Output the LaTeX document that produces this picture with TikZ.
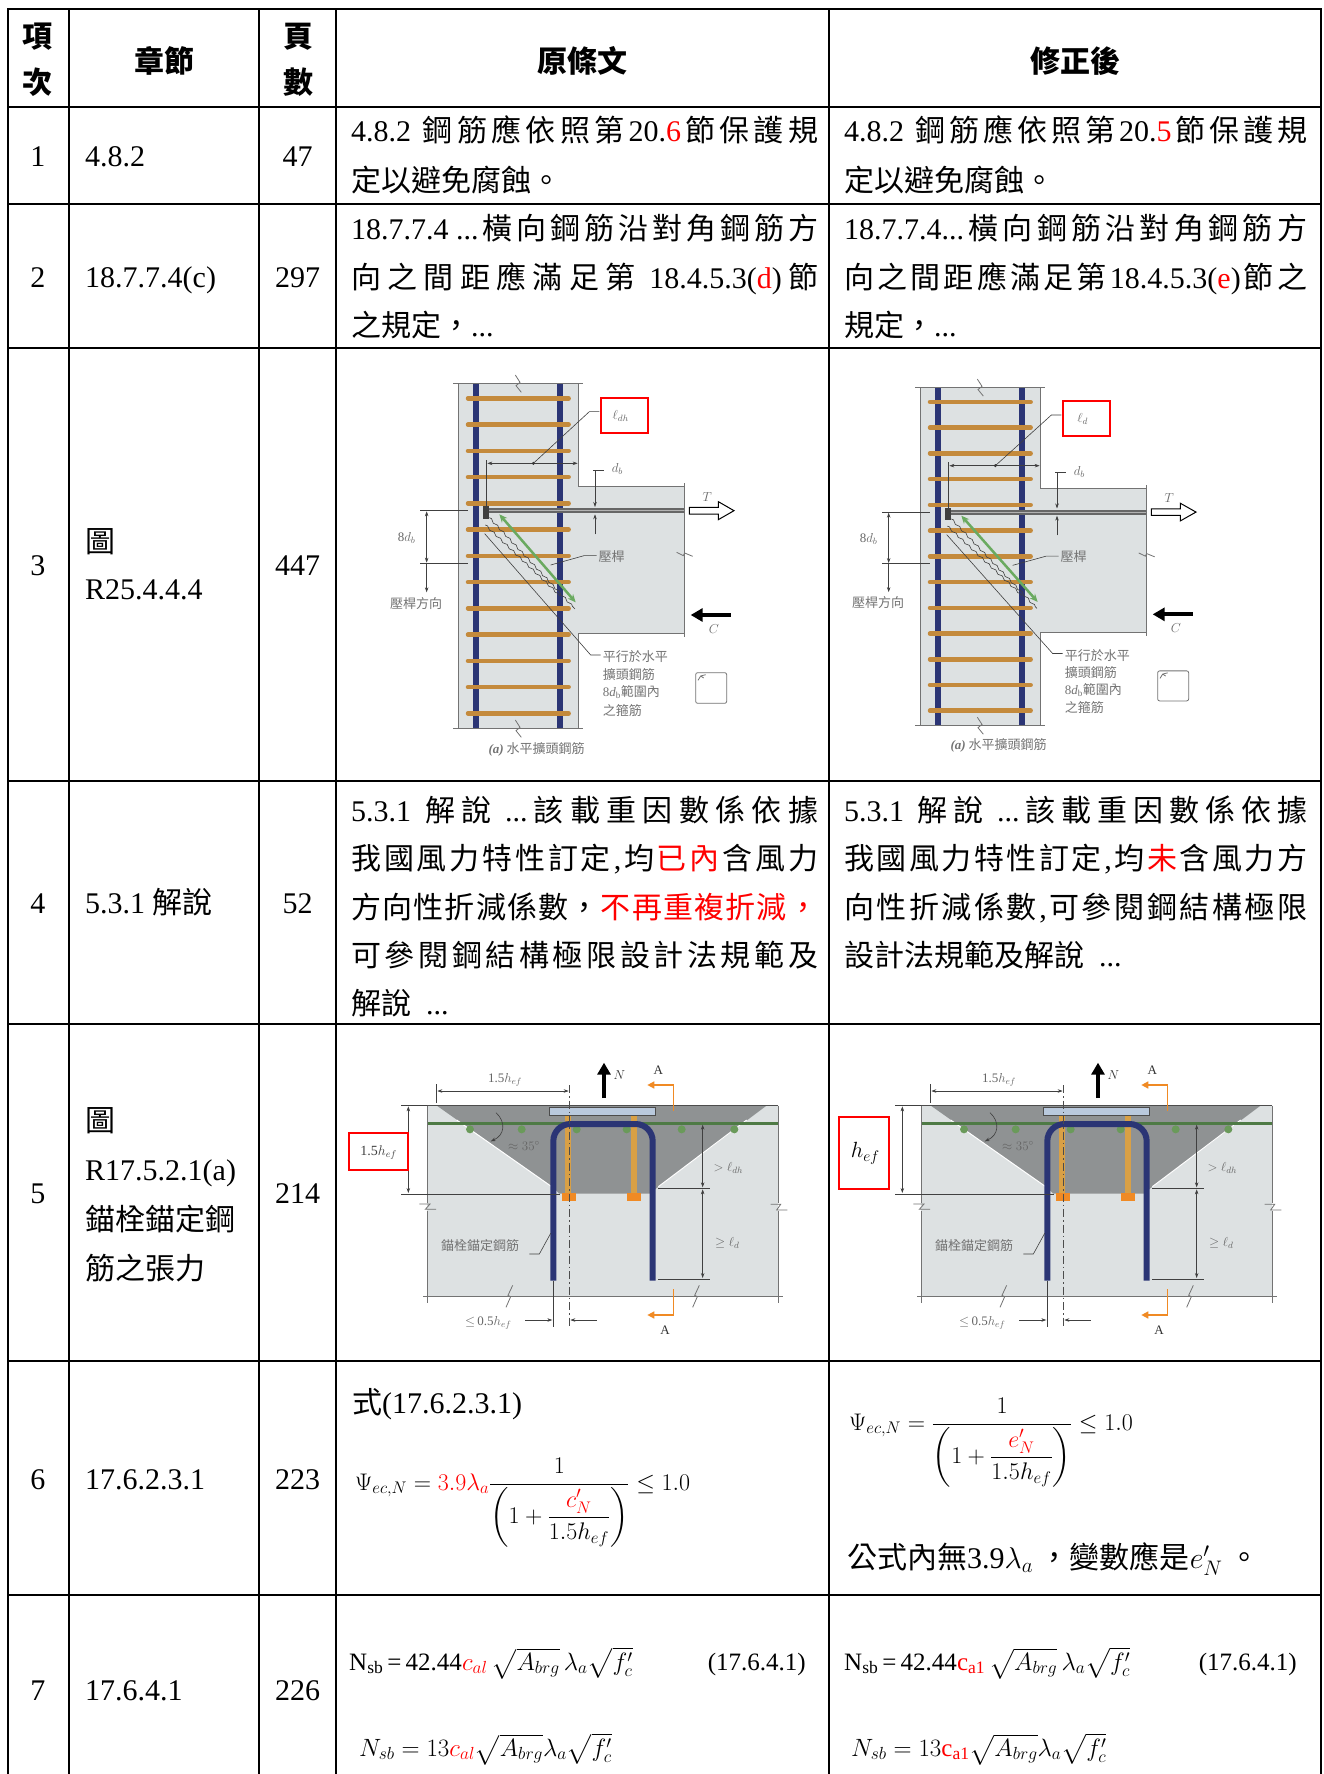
\documentclass[tikz,border=0pt]{standalone}
\usepackage{fix-cm}
\usepackage{amsmath}
\usepackage{fontspec}
\setmainfont{Liberation Serif}
\newfontfamily\cjk{Noto Sans CJK TC}
\usetikzlibrary{arrows.meta,decorations.pathmorphing}
\definecolor{conc}{HTML}{DDE1E2}
\definecolor{navy}{HTML}{2B3575}
\definecolor{tie}{HTML}{C48A3C}
\definecolor{grn}{HTML}{6AAA60}
\definecolor{cone}{HTML}{8F9293}
\definecolor{stud}{HTML}{D9A045}
\definecolor{orng}{HTML}{F08A24}
\definecolor{plate}{HTML}{B9C9DD}
\definecolor{rebargrn}{HTML}{4E7A45}
\definecolor{dotgrn}{HTML}{6A9A5A}
\newcommand\lt[1]{{\rmfamily #1}}
\newcommand\rd[1]{\textcolor{red}{#1}}
\def\jend{}
\def\jendmark{\jend}
\def\jspread#1{\def\jtmp{#1}\ifx\jtmp\jendmark\else#1\hfil\expandafter\jspread\fi}
\newcommand\jline[2]{\hbox to #1{\jspread#2\jend\unskip}}
\tikzset{
 tline/.style={line width=2.5pt, line cap=rect},
 txt/.style={anchor=base west, inner sep=0pt, font=\fontsize{30}{36}\selectfont\cjk},
 ctxt/.style={anchor=base, inner sep=0pt, font=\fontsize{30}{36}\selectfont\rmfamily},
 ltxt/.style={anchor=base west, inner sep=0pt, font=\fontsize{30}{36}\selectfont\rmfamily},
 hdr/.style={anchor=base, inner sep=0pt, font=\fontsize{30}{36}\selectfont\cjk\bfseries},
 ftxt/.style={anchor=base west, inner sep=0pt, font=\fontsize{25}{30}\selectfont\rmfamily},
 fsix/.style={anchor=base west, inner sep=0pt, font=\fontsize{24}{30}\selectfont\rmfamily},
 flab/.style={inner sep=0pt, text=black!55, font=\fontsize{13}{15}\selectfont\cjk},
 fmath/.style={inner sep=0pt, text=black!60, font=\fontsize{13}{15}\selectfont\rmfamily},
 fedge/.style={draw=black!55, line width=0.8pt},
 fdim/.style={draw=black!75, line width=0.6pt},
 darr/.style={fdim, {Stealth[length=5pt,width=3.5pt]}-{Stealth[length=5pt,width=3.5pt]}},
 sarr/.style={fdim, -{Stealth[length=5pt,width=3.5pt]}},
 wavy/.style={fdim, decorate, decoration={zigzag, segment length=9pt, amplitude=0.9pt}},
}
\newcommand\figthree[2]{%
 \fill[conc] (385,115) rectangle (745,1150);
 \fill[conc] (745,425) rectangle (1062,865);
 \draw[navy, line width=6pt] (438,117) -- (438,1148);
 \draw[navy, line width=6pt] (690,117) -- (690,1148);
 \foreach \k in {0,...,12}{\draw[tie, line width=4.5pt, line cap=round] (414,{160+78.75*\k}) -- (716,{160+78.75*\k});}
 \draw[fedge] (370,115) -- (760,115);
 \draw[fedge] (370,1150) -- (760,1150);
 \draw[fedge] (385,115) -- (385,1150);
 \draw[fedge] (745,115) -- (745,425) -- (1062,425);
 \draw[fedge] (1062,865) -- (745,865) -- (745,1150);
 \draw[fedge] (1062,415) -- (1062,875);
 \draw[fedge] (556,90) -- (570,112) -- (558,122) -- (574,142);
 \draw[fedge] (556,1125) -- (570,1147) -- (558,1157) -- (574,1177);
 \draw[fedge] (1040,622) -- (1060,632) -- (1064,624) -- (1088,634);
 \draw[black!60, line width=5pt] (470,497) -- (1062,497);
 \draw[black!30, line width=1pt] (472,497) -- (1062,497);
 \fill[black!75] (460,484) rectangle (477,522);
 \draw[darr] (472,355) -- (743,355);
 \draw[fdim] (470,345) -- (470,486);
 \fill[black!80] (610,355) circle (1.6pt);
 \draw[fdim] (610,355) -- (778,200) -- (808,200);
 \draw[red, line width=2pt] (812,158) rectangle (955,265);
 \node[fmath] (#2-box) at (872,212) {$\ell_{#1}$};
 \draw[sarr] (795,375) -- (795,486);
 \draw[sarr] (795,568) -- (795,508);
 \draw[fdim] (790,375) -- (822,375);
 \node[fmath] (#2-db) at (862,373) {$d_b$};
 \draw[fdim] (270,497) -- (415,497);
 \draw[fdim] (270,655) -- (415,655);
 \draw[darr] (290,499) -- (290,653);
 \draw[sarr] (290,657) -- (290,742);
 \node[fmath] (#2-8db) at (230,580) {8$d_b$};
 \node[flab] (#2-sdir) at (258,775) {壓桿方向};
 \draw[grn, line width=2.5pt, {Stealth[length=8pt,width=7pt]}-{Stealth[length=8pt,width=7pt]}] (508,508) -- (737,772);
 \draw[wavy] (478,518) -- (735,792);
 \draw[wavy] (466,540) -- (690,752);
 \draw[fdim] (464,566) -- (782,930) -- (812,930);
 \draw[fdim] (662,660) -- (762,632) -- (800,632);
 \node[flab] (#2-strut) at (845,634) {壓桿};
 \node[flab, anchor=west] (#2-t1) at (818,936) {平行於水平};
 \node[flab, anchor=west] (#2-t2) at (818,988) {擴頭鋼筋};
 \node[flab, anchor=west] (#2-t3) at (818,1041) {{\rmfamily 8\textit{d}\textsubscript{b}}範圍內};
 \node[flab, anchor=west] (#2-t4) at (818,1096) {之箍筋};
 \draw[black!55, line width=0.8pt, rounded corners=2pt] (1097,983) rectangle (1190,1075);
 \draw[black!55, line width=0.8pt] (1104,1006) -- (1112,993) -- (1121,999) (1112,993) -- (1127,989);
 \draw[black, line width=1pt, fill=white] (1078,487) -- (1165,487) -- (1165,470) -- (1212,497) -- (1165,524) -- (1165,507) -- (1078,507) -- cycle;
 \node[fmath] (#2-T) at (1132,455) {$T$};
 \draw[black, line width=4pt, -{Triangle[length=12pt,width=13pt]}] (1202,810) -- (1082,810);
 \node[fmath] (#2-C) at (1152,852) {$C$};
 \node[flab] (#2-cap) at (620,1212) {{\rmfamily\bfseries\itshape (a)}\ 水平擴頭鋼筋};
}
\newcommand\figfive[1]{%
 \fill[conc] (292,257) rectangle (1345,830);
 \fill[cone] (322,258) -- (1308,258) -- (985,500) -- (960,521) -- (688,521) -- (668,502) -- cycle;
 \draw[white, line width=1pt] (380,300) -- (668,502);
 \draw[white, line width=1pt] (1250,300) -- (985,500);
 \draw[rebargrn, line width=3pt] (292,310) -- (1345,310);
 \foreach \xx in {420,575,740,890,1055,1213}{\fill[dotgrn] (\xx,328) circle (4pt);}
 \draw[stud, line width=6pt] (715,287) -- (715,520);
 \draw[stud, line width=6pt] (912,287) -- (912,520);
 \fill[orng] (695,519) rectangle (737,543);
 \fill[orng] (892,519) rectangle (934,543);
 \draw[navy, line width=6pt, rounded corners=17pt] (670,782) -- (670,312) -- (968,312) -- (968,782);
 \draw[black!70, fill=plate, line width=0.6pt] (658,262) rectangle (975,286);
 \draw[black!70, line width=1.3pt] (292,257) -- (1345,257);
 \draw[fedge] (292,257) -- (292,548);
 \draw[fedge] (292,572) -- (292,848);
 \draw[fedge] (268,552) -- (300,552) -- (286,568) -- (318,568);
 \draw[fedge] (1345,257) -- (1345,550);
 \draw[fedge] (1345,574) -- (1345,848);
 \draw[fedge] (1322,553) -- (1352,553) -- (1340,570) -- (1372,570);
 \draw[fedge] (280,830) -- (1360,830);
 \draw[fedge] (528,862) -- (542,830) -- (534,826) -- (548,796);
 \draw[fedge] (1088,862) -- (1102,830) -- (1094,826) -- (1108,796);
 \draw[black!70, line width=0.6pt, dash pattern=on 8pt off 3pt on 1.5pt off 3pt] (718,195) -- (718,925);
 \draw[black, line width=4.5pt, -{Triangle[length=12pt,width=13pt]}] (822,234) -- (822,128);
 \node[fmath, text=black!80] (#1-N) at (868,165) {$N$};
 \draw[darr] (322,213) -- (716,213);
 \draw[fdim] (320,192) -- (320,248);
 \node[fmath] (#1-w) at (525,180) {1.5$h_{ef}$};
 \draw[fdim, -{Stealth[length=5pt,width=3.5pt]}] (498,278) .. controls (528,305) and (525,345) .. (482,364);
 \node[fmath] (#1-ang) at (582,378) {$\approx 35^\circ$};
 \draw[darr] (235,259) -- (235,519);
 \draw[fdim] (213,257) -- (292,257);
 \draw[fdim] (213,522) -- (690,522);
 \draw[darr] (1118,314) -- (1118,502);
 \draw[darr] (1118,508) -- (1118,774);
 \draw[fdim] (985,505) -- (1140,505);
 \draw[fdim] (985,777) -- (1140,777);
 \node[fmath] (#1-ldh) at (1195,445) {$>\ell_{dh}$};
 \node[fmath] (#1-ld) at (1192,668) {$\geq\ell_d$};
 \draw[orng, line width=1.5pt, -{Triangle[length=7pt,width=7pt]}] (1030,272) -- (1030,195) -- (952,195);
 \node[fmath, text=black!80] (#1-A1) at (985,150) {A};
 \draw[orng, line width=1.5pt, -{Triangle[length=7pt,width=7pt]}] (1030,808) -- (1030,885) -- (952,885);
 \node[fmath, text=black!80] (#1-A2) at (1005,930) {A};
 \draw[fdim] (670,782) -- (670,922);
 \draw[sarr] (585,900) -- (667,900);
 \draw[sarr] (800,900) -- (721,900);
 \node[fmath] (#1-half) at (475,908) {$\leq$\,0.5$h_{ef}$};
 \draw[fdim] (598,702) -- (628,702) -- (662,640);
 \node[flab] (#1-anc) at (450,676) {錨栓錨定鋼筋};
}
\begin{document}
\begin{tikzpicture}[x=1pt,y=-1pt]
\useasboundingbox (0,0) rectangle (1324,1774);
\fill[white] (0,0) rectangle (1324,1774);
% ---------- figures ----------
\begin{scope}[shift={(330,345)}, x=0.33333pt, y=-0.33333pt]
 \figthree{dh}{L}
\end{scope}
\begin{scope}[shift={(792,349.7)}, x=0.33333pt, y=-0.3267pt]
 \figthree{d}{R}
\end{scope}
\begin{scope}[shift={(330,1020)}, x=0.33333pt, y=-0.33333pt]
 \figfive{P}
 \draw[red, line width=2pt] (58,338) rectangle (235,450);
 \node[fmath, text=black!75, font=\fontsize{14}{16}\selectfont\rmfamily] (P-box) at (146,398) {1.5$h_{ef}$};
\end{scope}
\begin{scope}[shift={(824,1020)}, x=0.33333pt, y=-0.33333pt]
 \figfive{Q}
 \draw[red, line width=2pt] (44,292) rectangle (194,508);
 \node[inner sep=0pt, font=\fontsize{22}{24}\selectfont] (Q-box) at (124,400) {$h_{ef}$};
\end{scope}
% ---------- table lines ----------
\foreach \yy in {9,107,204,348,781,1024,1361,1595} \draw[tline] (8,\yy) -- (1321,\yy);
\foreach \xx in {8,69,259,336,829,1321} \draw[tline] (\xx,9) -- (\xx,1774);
% ---------- header ----------
\node[hdr] (h1a) at (38,48) {項};
\node[hdr] (h1b) at (38,94) {次};
\node[hdr] (h2) at (164,73) {章節};
\node[hdr] (h3a) at (298,48) {頁};
\node[hdr] (h3b) at (298,94) {數};
\node[hdr] (h4) at (582,73) {原條文};
\node[hdr] (h5) at (1075,73) {修正後};
% ---------- column 1 & 3 ----------
\node[ctxt] (n1) at (38,166) {1};
\node[ctxt] (n2) at (38,287) {2};
\node[ctxt] (n3) at (38,575) {3};
\node[ctxt] (n4) at (38,913) {4};
\node[ctxt] (n5) at (38,1203) {5};
\node[ctxt] (n6) at (38,1489) {6};
\node[ctxt] (n7) at (38,1700) {7};
\node[ctxt] (p1) at (297.5,166) {47};
\node[ctxt] (p2) at (297.5,287) {297};
\node[ctxt] (p3) at (297.5,575) {447};
\node[ctxt] (p4) at (297.5,913) {52};
\node[ctxt] (p5) at (297.5,1203) {214};
\node[ctxt] (p6) at (297.5,1489) {223};
\node[ctxt] (p7) at (297.5,1700) {226};
% ---------- column 2 ----------
\node[ltxt] (c1) at (85,166) {4.8.2};
\node[ltxt] (c2) at (85,287) {18.7.7.4(c)};
\node[txt] (c3a) at (85,552) {圖};
\node[ltxt] (c3b) at (85,599) {R25.4.4.4};
\node[txt] (c4) at (85,913) {\lt{5.3.1\ }解說};
\node[txt] (c5a) at (85,1131) {圖};
\node[ltxt] (c5b) at (85,1180) {R17.5.2.1(a)};
\node[txt] (c5c) at (85,1230) {錨栓錨定鋼};
\node[txt] (c5d) at (85,1279) {筋之張力};
\node[ltxt] (c6) at (85,1489) {17.6.2.3.1};
\node[ltxt] (c7) at (85,1700) {17.6.4.1};
% ---------- row 1 ----------
\node[txt] (o1a) at (351,142) {\jline{467pt}{{\lt{4.8.2\ }}鋼筋應依照第{\lt{20.\rd{6}}}節保護規}};
\node[txt] (o1b) at (351,191) {定以避免腐蝕。};
\node[txt] (m1a) at (844,142) {\jline{463pt}{{\lt{4.8.2\ }}鋼筋應依照第{\lt{20.\rd{5}}}節保護規}};
\node[txt] (m1b) at (844,191) {定以避免腐蝕。};
% ---------- row 2 ----------
\node[txt] (o2a) at (351,239) {\jline{467pt}{{\lt{18.7.7.4\ ...}}橫向鋼筋沿對角鋼筋方}};
\node[txt] (o2b) at (351,288) {\jline{467pt}{向之間距應滿足第{\lt{\ 18.4.5.3(\rd{d})}}節}};
\node[txt] (o2c) at (351,336) {之規定，\lt{...}};
\node[txt] (m2a) at (844,239) {\jline{463pt}{{\lt{18.7.7.4...}}橫向鋼筋沿對角鋼筋方}};
\node[txt] (m2b) at (844,288) {\jline{463pt}{向之間距應滿足第{\lt{18.4.5.3(\rd{e})}}節之}};
\node[txt] (m2c) at (844,336) {規定，\lt{...}};
% ---------- row 4 ----------
\node[txt] (o4a) at (351,821) {\jline{467pt}{{\lt{5.3.1\ }}解說{\lt{\ ...}}該載重因數係依據}};
\node[txt] (o4b) at (351,869) {\jline{467pt}{我國風力特性訂定{\lt{,}}均{\rd{已}}{\rd{內}}含風力}};
\node[txt] (o4c) at (351,918) {\jline{467pt}{方向性折減係數，{\rd{不}}{\rd{再}}{\rd{重}}{\rd{複}}{\rd{折}}{\rd{減}}{\rd{，}}}};
\node[txt] (o4d) at (351,966) {\jline{467pt}{可參閱鋼結構極限設計法規範及}};
\node[txt] (o4e) at (351,1014) {解說\lt{\ \ ...}};
\node[txt] (m4a) at (844,821) {\jline{463pt}{{\lt{5.3.1\ }}解說{\lt{\ ...}}該載重因數係依據}};
\node[txt] (m4b) at (844,869) {\jline{463pt}{我國風力特性訂定{\lt{,}}均{\rd{未}}含風力方}};
\node[txt] (m4c) at (844,918) {\jline{463pt}{向性折減係數{\lt{,}}可參閱鋼結構極限}};
\node[txt] (m4d) at (844,966) {設計法規範及解說\lt{\ \ ...}};
% ---------- row 6 ----------
\node[txt] (o6a) at (352,1413) {式\lt{(17.6.2.3.1)}};
\node[fsix] (o6b) at (355,1490) {$\Psi_{ec,N}=\textcolor{red}{3.9\lambda_a}\dfrac{1}{\left(1+\dfrac{\textcolor{red}{c'_N}}{1.5h_{ef}}\right)}\leq 1.0$};
\node[fsix] (m6a) at (849,1430) {$\Psi_{ec,N}=\dfrac{1}{\left(1+\dfrac{\textcolor{red}{e'_N}}{1.5h_{ef}}\right)}\leq 1.0$};
\node[txt] (m6b) at (847,1568) {公式內無\lt{3.9}$\lambda_a$\ ，變數應是$e'_N$\ 。};
% ---------- row 7 ----------
\node[ftxt] (o7a) at (349,1670) {N\textsubscript{sb}\,=\,42.44$\textcolor{red}{c_{al}}\,\sqrt{A_{brg}}\,\lambda_a\sqrt{f'_c}$};
\node[ftxt, anchor=base east] (o7n) at (806,1670) {(17.6.4.1)};
\node[ftxt] (o7b) at (359,1756) {$N_{sb}=13\textcolor{red}{c_{al}}\sqrt{A_{brg}}\lambda_a\sqrt{f'_c}$};
\node[ftxt] (m7a) at (844,1670) {N\textsubscript{sb}\,=\,42.44\textcolor{red}{c\textsubscript{a1}}\,$\sqrt{A_{brg}}\,\lambda_a\sqrt{f'_c}$};
\node[ftxt, anchor=base east] (m7n) at (1297,1670) {(17.6.4.1)};
\node[ftxt] (m7b) at (851,1756) {$N_{sb}=13\textcolor{red}{\mathrm{c_{a1}}}\sqrt{A_{brg}}\lambda_a\sqrt{f'_c}$};
\end{tikzpicture}
\end{document}
